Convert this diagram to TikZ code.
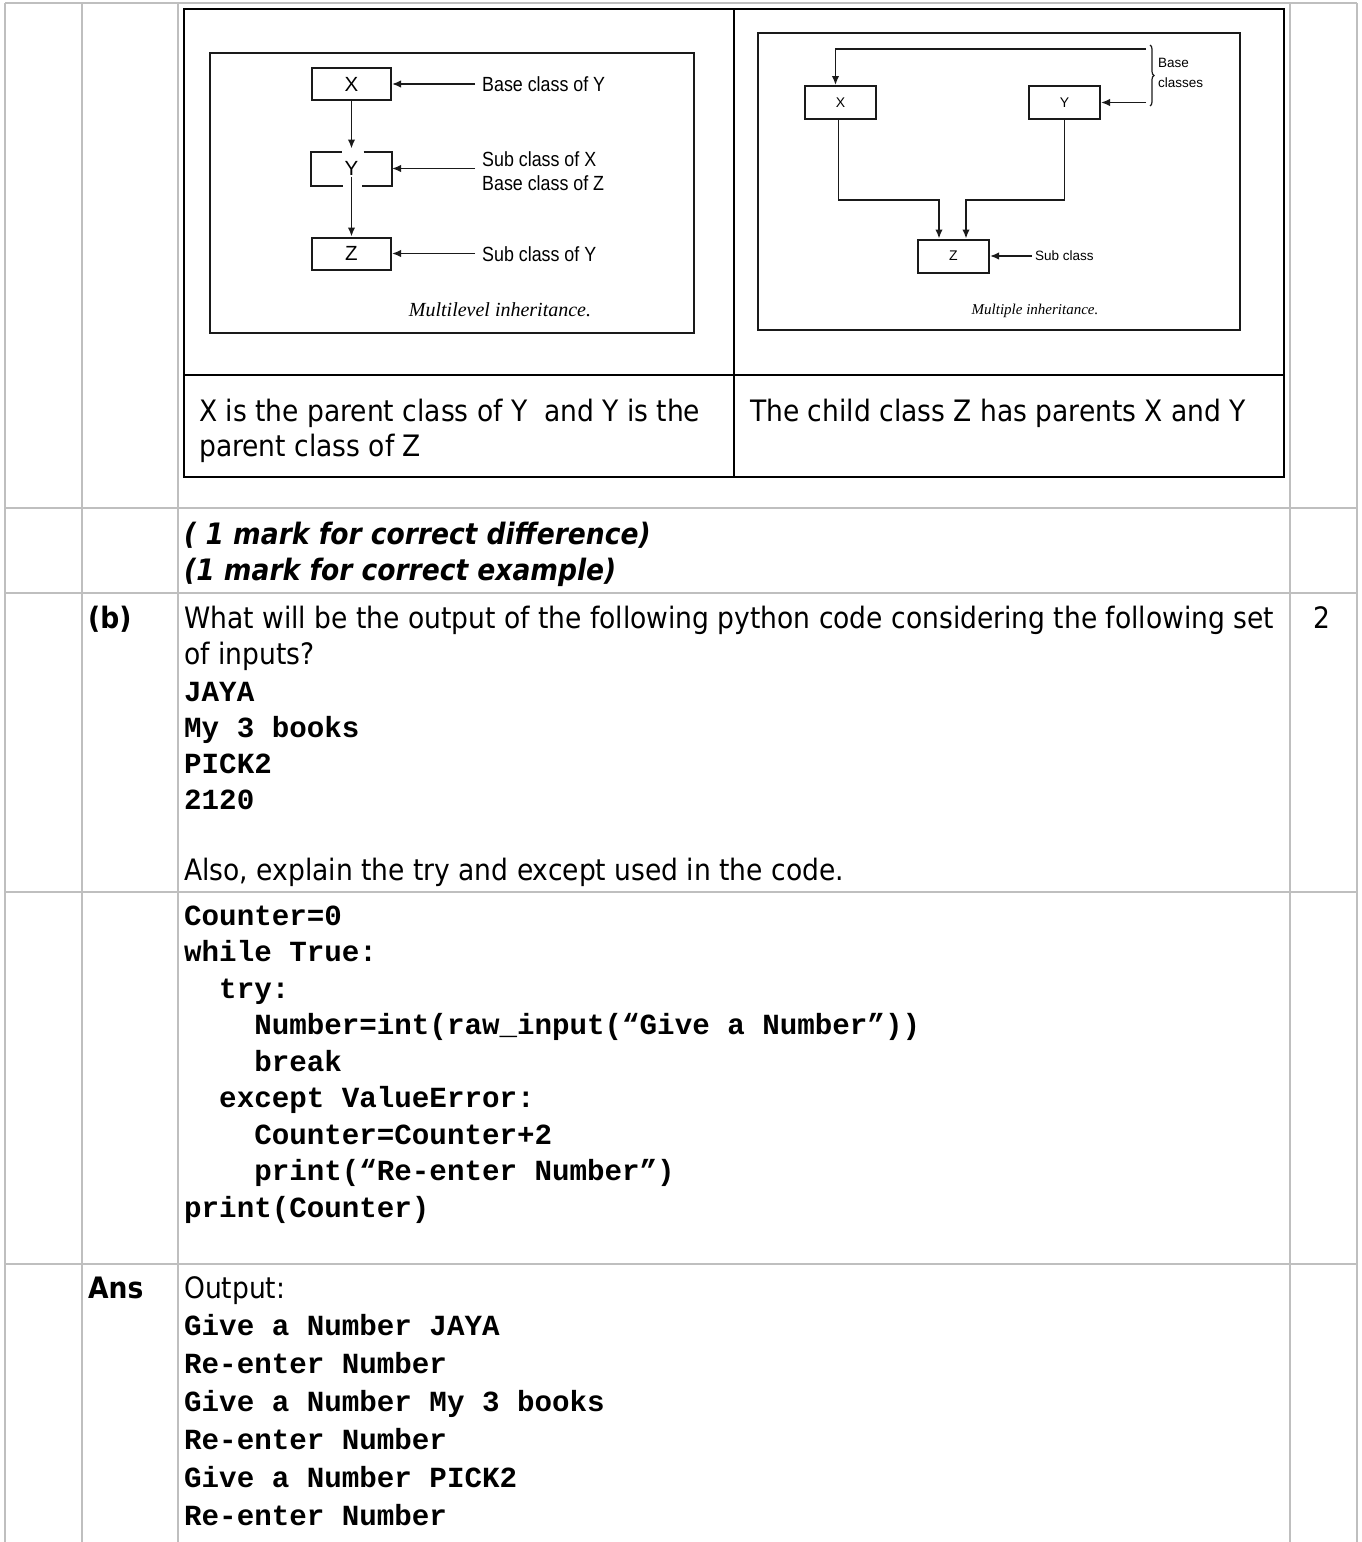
\documentclass[tikz,border=0pt]{standalone}
\usepackage{fontspec}
\setmainfont{DejaVu Sans Condensed}
\setmonofont{Liberation Mono}
\newfontfamily\scanfont{Liberation Sans}
\newfontfamily\capfont{Liberation Serif}
\usepackage{tikz}
\usetikzlibrary{arrows.meta, positioning, decorations.pathreplacing}
\definecolor{gridgray}{HTML}{BFBFBF}
\definecolor{ink}{HTML}{1A1A1A}
\newcommand{\narrowtext}[1]{\scalebox{0.87}[1]{#1}}
\tikzstyle{gridline} = [draw=gridgray, line width=2pt]
\tikzstyle{frame} = [draw=black, line width=2.2pt]
\tikzstyle{scan} = [draw=ink, line width=2.2pt]
\tikzstyle{lbox} = [draw=ink, line width=2pt, inner sep=0pt, minimum width=79pt, minimum height=32pt, font=\scanfont\fontsize{20.5}{24}\selectfont]
\tikzstyle{rbox} = [draw=ink, line width=2pt, inner sep=0pt, minimum width=71pt, minimum height=33pt, font=\scanfont\fontsize{14}{16}\selectfont]
\tikzstyle{lbl} = [anchor=west, inner xsep=7pt, inner ysep=0pt, align=left, font=\scanfont\fontsize{20.5}{24}\selectfont]
\tikzstyle{arrow} = [draw=ink, line width=1.6pt, -{Latex[length=9pt,width=7.5pt]}]
\tikzstyle{body} = [anchor=base west, inner sep=0pt, font=\fontsize{29.5}{36}\selectfont]
\tikzstyle{code} = [anchor=base west, inner sep=0pt, font=\ttfamily\bfseries\fontsize{29.2}{36}\selectfont]
\begin{document}
\begin{tikzpicture}[x=1pt,y=-1pt]
\useasboundingbox (0,0) rectangle (1361,1542);
% outer table
\draw[gridline] (5,3) -- (1357,3) (5,508) -- (1357,508) (5,593) -- (1357,593)
    (5,892) -- (1357,892) (5,1264) -- (1357,1264);
\draw[gridline] (5,3) -- (5,1542) (82,3) -- (82,1542) (178,3) -- (178,1542)
    (1290,3) -- (1290,1542) (1357,3) -- (1357,1542);
% inner table
\draw[frame] (184,9) rectangle (1284,477);
\draw[frame] (734,9) -- (734,477) (184,375) -- (1284,375);

% multilevel inheritance
\draw[scan] (210,53) rectangle (694,333);
\node[lbox] (lx) at (351.5,84) {X};
\node[lbox, draw=none] (ly) at (351.5,168.5) {Y};
\node[lbox] (lz) at (351.5,253.5) {Z};
\draw[scan, line width=2pt] ([xshift=-10pt]ly.north) -| (ly.south west) -- ([xshift=-9pt]ly.south);
\draw[scan, line width=2pt] ([xshift=12pt]ly.north) -| (ly.south east) -- ([xshift=10pt]ly.south);
\draw[arrow] (lx.south) -- ([yshift=3pt]ly.north);
\draw[arrow] ([yshift=-8pt]ly.center) -- (lz.north);
\node[lbl] (lbase) at (475,84) {\narrowtext{Base class of Y}};
\node[lbl] (lsub) at (475,171) {\narrowtext{Sub class of X}\\\narrowtext{Base class of Z}};
\node[lbl] (llast) at (475,254) {\narrowtext{Sub class of Y}};
\draw[arrow] (lx.east -| lbase.west) -- (lx.east);
\draw[arrow] (ly.east -| lsub.west) -- (ly.east);
\draw[arrow] (lz.east -| llast.west) -- (lz.east);
\node[font=\capfont\itshape\fontsize{20}{24}\selectfont] (lcap) at (500,310) {Multilevel inheritance.};

% multiple inheritance
\draw[scan] (758,33) rectangle (1240,330);
\node[rbox] (rx) at (840.5,102.5) {X};
\node[rbox] (ry) at (1064.5,102.5) {Y};
\node[rbox] (rz) at (953.5,256) {Z};
\coordinate (btop) at (1146,49);
\coordinate (jx) at (939,200);
\coordinate (jy) at (966,200);
\draw[arrow] (btop) -| ([xshift=-5pt]rx.north);
\draw[arrow] (ry.east -| btop) -- (ry.east);
\draw[ink, line width=1.2pt, decorate, decoration={brace, amplitude=4pt}] (1150,45) -- (1150,106);
\node[anchor=west, inner sep=0pt, align=left, font=\scanfont\fontsize{13.5}{20}\selectfont] (rbase) at (1158,73) {Base\\classes};
\draw[arrow] ([xshift=-2pt]rx.south) |- (jx) -- (jx |- rz.north);
\draw[arrow] (ry.south) |- (jy) -- (jy |- rz.north);
\node[anchor=west, inner xsep=3pt, inner ysep=0pt, font=\scanfont\fontsize{13.5}{16}\selectfont] (rsub) at (1032,256) {Sub class};
\draw[arrow] (rsub.west) -- (rz.east);
\node[font=\capfont\itshape\fontsize{15}{18}\selectfont] (rcap) at (1035,311) {Multiple inheritance.};

% notes under the diagrams
\node[body] (lnote1) at (199,421) {X is the parent class of Y\ \ and Y is the};
\node[body] (lnote2) at (199,456) {parent class of Z};
\node[body] (rnote) at (750,421) {The child class Z has parents X and Y};

% marks
\node[body, font=\bfseries\itshape\fontsize{29.5}{36}\selectfont] (mark1) at (184,544) {( 1 mark for correct difference)};
\node[body, font=\bfseries\itshape\fontsize{29.5}{36}\selectfont] (mark2) at (184,580) {(1 mark for correct example)};

% question (b)
\node[body, font=\bfseries\fontsize{29.5}{36}\selectfont] (qb) at (88,628) {(b)};
\node[body, anchor=base] (qmark) at (1322,628) {2};
\node[body] (q1) at (184,628) {What will be the output of the following python code considering the following set};
\node[body] (q2) at (184,664) {of inputs?};
\node[code] (in1) at (184,701) {JAYA};
\node[code] (in2) at (184,737) {My 3 books};
\node[code] (in3) at (184,773) {PICK2};
\node[code] (in4) at (184,809) {2120};
\node[body] (q3) at (184,880) {Also, explain the try and except used in the code.};

% code
\node[code] (c1) at (184,925) {Counter=0};
\node[code] (c2) at (184,961.5) {while True:};
\node[code] (c3) at (184,998) {\hspace*{1.2em}try:};
\node[code] (c4) at (184,1034.5) {\hspace*{2.4em}Number=int(raw\_input(“Give a Number”))};
\node[code] (c5) at (184,1071) {\hspace*{2.4em}break};
\node[code] (c6) at (184,1107.5) {\hspace*{1.2em}except ValueError:};
\node[code] (c7) at (184,1144) {\hspace*{2.4em}Counter=Counter+2};
\node[code] (c8) at (184,1180.5) {\hspace*{2.4em}print(“Re-enter Number”)};
\node[code] (c9) at (184,1217) {print(Counter)};

% answer
\node[body, font=\bfseries\fontsize{29.5}{36}\selectfont] (ans) at (88,1298) {Ans};
\node[body] (out0) at (184,1298) {Output:};
\node[code] (o1) at (184,1335) {Give a Number JAYA};
\node[code] (o2) at (184,1373) {Re-enter Number};
\node[code] (o3) at (184,1411) {Give a Number My 3 books};
\node[code] (o4) at (184,1449) {Re-enter Number};
\node[code] (o5) at (184,1487) {Give a Number PICK2};
\node[code] (o6) at (184,1525) {Re-enter Number};
\end{tikzpicture}
\end{document}
